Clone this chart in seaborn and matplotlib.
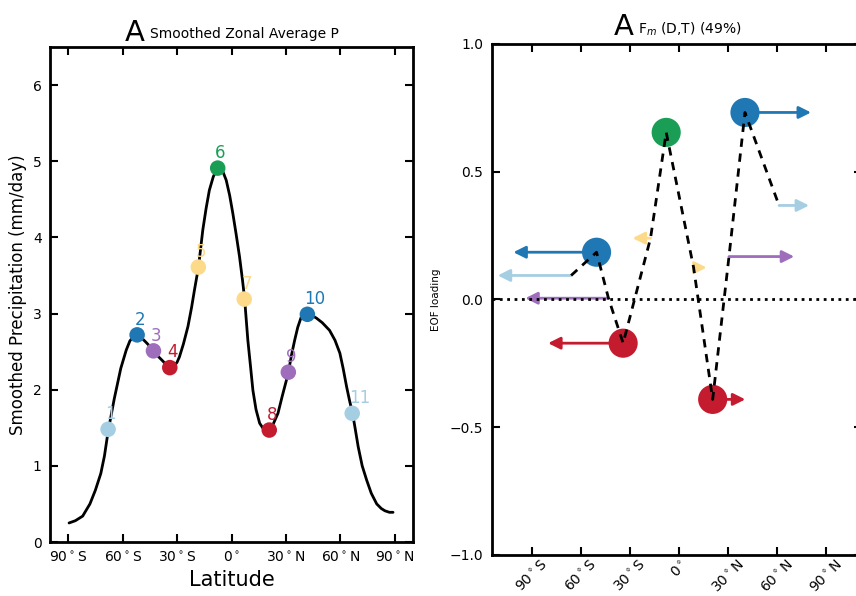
import matplotlib
matplotlib.use('Agg')
import matplotlib.pyplot as plt
import numpy as np
import pandas as pd
import seaborn as sns

# Smoothed zonal-mean precipitation curve
curve_lat = [-89.5, -86, -82, -78, -75, -72, -70, -68, -64.6, -61, -58, -56, -54, -52,
             -49.5, -47, -45, -43, -40.5, -38, -36, -34, -32, -30, -28.7, -26.5, -24,
             -22, -20.4, -18.2, -15.8, -14, -12.2, -10, -7.6, -5, -2.9, -1, 0.7, 2.5,
             4.4, 6, 7.2, 9, 10.5, 11.8, 13.5, 15.5, 18, 21, 23, 25.6, 28, 31.3, 33,
             34.8, 36.5, 38.5, 41.8, 44, 46.8, 50, 54, 57, 59.7, 61.5, 63.4, 65, 66.7,
             68.2, 69.8, 72, 74.5, 77, 80, 82.5, 84.5, 87, 89]
curve_val = [0.25, 0.28, 0.34, 0.50, 0.68, 0.90, 1.13, 1.45, 1.88, 2.28, 2.52, 2.64,
             2.70, 2.72, 2.68, 2.62, 2.57, 2.51, 2.44, 2.38, 2.33, 2.29, 2.30, 2.36,
             2.43, 2.60, 2.83, 3.08, 3.31, 3.61, 4.10, 4.38, 4.62, 4.80, 4.91, 4.88,
             4.75, 4.55, 4.32, 4.05, 3.75, 3.45, 3.20, 2.65, 2.30, 1.99, 1.74, 1.56,
             1.47, 1.47, 1.55, 1.69, 1.92, 2.22, 2.45, 2.65, 2.82, 2.96, 2.99, 2.98,
             2.94, 2.88, 2.78, 2.65, 2.48, 2.28, 2.04, 1.86, 1.69, 1.48, 1.25, 1.00,
             0.81, 0.64, 0.50, 0.44, 0.41, 0.39, 0.39]

# Numbered points on the curve
point_num = [1, 2, 3, 4, 5, 6, 7, 8, 9, 10, 11]
point_lat = [-68, -52, -43, -34, -18.3, -7.6, 7, 20.8, 31.3, 41.8, 66.5]
point_val = [1.48, 2.72, 2.51, 2.29, 3.61, 4.91, 3.19, 1.47, 2.23, 2.99, 1.69]
point_colors = ['#a6cee3', '#1f78b4', '#9e6ebd', '#c51b2f', '#fdda8a', '#1a9e55',
                '#fdda8a', '#c51b2f', '#9e6ebd', '#1f78b4', '#a6cee3']

# EOF loadings and latitude shifts of the same points
eof_lat = [-66.3, -50.7, -43.4, -34.4, -17.6, -8.0, 8.8, 20.5, 30.5, 40.3, 61.2]
eof_load = [0.094, 0.185, 0.005, -0.171, 0.24, 0.654, 0.125, -0.391, 0.168, 0.732, 0.368]
eof_shift = [-45, -51, -51, -46, -11, 0, 8, 20, 40, 40.5, 18.4]
extrema = [2, 4, 6, 8, 10]

lat_ticks = [-90, -60, -30, 0, 30, 60, 90]
lat_labels = [r'90$^\circ$S', r'60$^\circ$S', r'30$^\circ$S', r'0$^\circ$',
              r'30$^\circ$N', r'60$^\circ$N', r'90$^\circ$N']

pts = pd.DataFrame({'num': [str(n) for n in point_num], 'lat': point_lat,
                    'val': point_val, 'eof_lat': eof_lat, 'load': eof_load,
                    'shift': eof_shift})
pal = dict(zip(pts['num'], point_colors))

sns.set_style('ticks')
plt.rcParams['font.family'] = ['DejaVu Sans']
plt.rcParams.update({'axes.linewidth': 2, 'axes.edgecolor': 'black',
                     'text.color': 'black', 'axes.labelcolor': 'black',
                     'xtick.color': 'black', 'ytick.color': 'black'})

fig = plt.figure(figsize=(8.56, 5.96), dpi=100)
ax1 = fig.add_axes([0.0584, 0.0906, 0.4241, 0.8305])
ax2 = fig.add_axes([0.5744, 0.0688, 0.4325, 0.8574])

# %% left panel
sns.lineplot(x=curve_lat, y=curve_val, color='black', lw=2, sort=False, ax=ax1, zorder=2)
for _, r in pts.iterrows():
    ax1.annotate(r['num'], (r['lat'], r['val']), xytext=(-2, 11), textcoords='offset points',
                 ha='left', va='center', fontsize=12, color=pal[r['num']], zorder=3)
sns.scatterplot(data=pts, x='lat', y='val', hue='num', palette=pal, s=125,
                edgecolor='none', legend=False, ax=ax1, zorder=4)
ax1.set(xlim=(-100, 100), ylim=(0, 6.5), xticks=lat_ticks, yticks=range(7))
ax1.set_xticklabels(lat_labels)
ax1.set_xlabel('Latitude', fontsize=15)
ax1.set_ylabel('Smoothed Precipitation (mm/day)', fontsize=12)
ax1.tick_params(direction='in', top=True, right=True, length=6, width=1.5,
                labelsize=10, pad=6)
ax1.text(0.262, 1.012, 'A', transform=ax1.transAxes, ha='right', va='baseline',
         fontsize=21)
ax1.text(0.275, 1.0175, 'Smoothed Zonal Average P', transform=ax1.transAxes,
         ha='left', va='baseline', fontsize=10)

# %% right panel
for _, r in pts.iterrows():
    if r['shift'] != 0:
        ax2.annotate('', xy=(r['eof_lat'] + r['shift'], r['load']),
                     xytext=(r['eof_lat'], r['load']),
                     arrowprops=dict(arrowstyle='-|>', color=pal[r['num']], lw=2,
                                     mutation_scale=18, shrinkA=0, shrinkB=0),
                     zorder=2)
big = pts[pts['num'].astype(int).isin(extrema)]
sns.scatterplot(data=big, x='eof_lat', y='load', hue='num', palette=pal, s=440,
                edgecolor='none', legend=False, ax=ax2, zorder=3)
ax2.plot(pts['eof_lat'], pts['load'], color='black', lw=2, dashes=(3, 2.4), zorder=4)
ax2.axhline(0, color='black', lw=2, ls=':', zorder=5)
ax2.set(xlim=(-115, 112), ylim=(-1, 1), xticks=lat_ticks,
        yticks=[-1, -0.5, 0, 0.5, 1], xlabel='', ylabel='')
ax2.set_xticklabels(lat_labels, rotation=45)
ax2.set_yticklabels(['\u22121.0', '\u22120.5', '0.0', '0.5', '1.0'])
ax2.set_ylabel('EOF loading', fontsize=7.5, labelpad=6)
ax2.tick_params(direction='in', top=True, right=True, length=6, width=1.5,
                labelsize=10, pad=6)
ax2.tick_params(axis='x', pad=2)
ax2.text(0.383, 1.0176, 'A', transform=ax2.transAxes, ha='right', va='baseline',
         fontsize=21)
ax2.text(0.395, 1.021, r'F$_m$ (D,T) (49%)', transform=ax2.transAxes,
         ha='left', va='baseline', fontsize=10)

plt.savefig('out.png', dpi=100)
